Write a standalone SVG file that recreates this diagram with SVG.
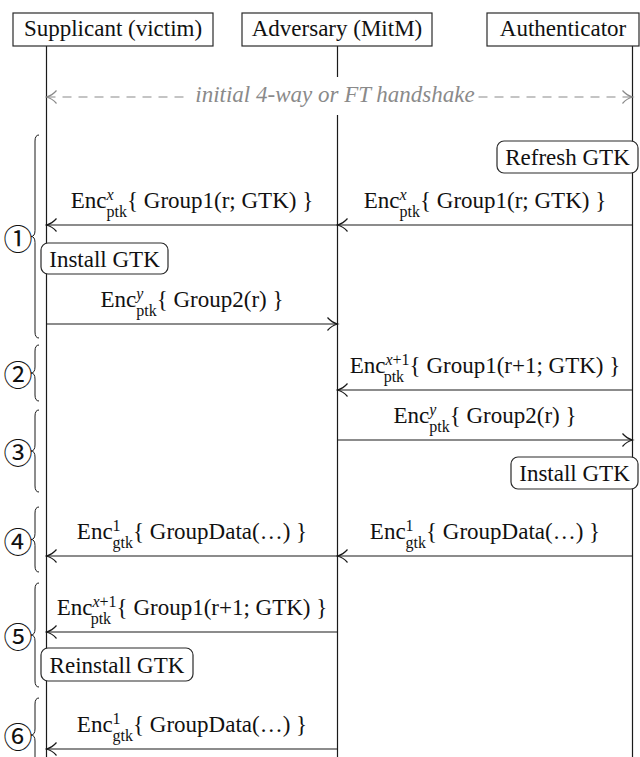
<svg xmlns="http://www.w3.org/2000/svg" width="640" height="757" viewBox="0 0 640 757" font-family="Liberation Serif, DejaVu Serif, serif">
<defs>
<style>
.ll{stroke:#1a1a1a;stroke-width:1.2;fill:none}
.msg{stroke:#1a1a1a;stroke-width:1.2;fill:none;marker-end:url(#ah)}
.box{fill:#fff;stroke:#2a2a2a;stroke-width:1.2}
.brace{fill:none;stroke:#1a1a1a;stroke-width:1}
.t{font-size:23px;fill:#111}
.s{font-size:16px}
.i{font-style:italic}
.hs{font-size:23px;font-style:italic;fill:#8a8a8a}
.dash{stroke:#8a8a8a;stroke-width:1.2;stroke-dasharray:9 7;fill:none;marker-start:url(#ahg);marker-end:url(#ahg)}
.num{font-size:29px;fill:#111}
</style>
<marker id="ah" markerUnits="userSpaceOnUse" markerWidth="14" markerHeight="16" viewBox="-12 -8 14 16" refX="0" refY="0" orient="auto">
<path d="M-10,-6.5 C-7,-3 -3,-0.8 0,0 C-3,0.8 -7,3 -10,6.5" fill="none" stroke="#1a1a1a" stroke-width="1.2"/>
</marker>
<marker id="ahg" markerUnits="userSpaceOnUse" markerWidth="14" markerHeight="16" viewBox="-12 -8 14 16" refX="0" refY="0" orient="auto-start-reverse">
<path d="M-10,-6.5 C-7,-3 -3,-0.8 0,0 C-3,0.8 -7,3 -10,6.5" fill="none" stroke="#8a8a8a" stroke-width="1.2"/>
</marker>
</defs>
<rect width="640" height="757" fill="#fff"/>

<g id="lifelines">
<line class="ll" x1="46.5" y1="46" x2="46.5" y2="757"/>
<line class="ll" x1="337.5" y1="46" x2="337.5" y2="757"/>
<line class="ll" x1="632.5" y1="46" x2="632.5" y2="757"/>
</g>

<g id="supplicant">
<rect class="box" x="13" y="13" width="200" height="33"/>
<text class="t" x="113" y="36" text-anchor="middle">Supplicant (victim)</text>
</g>
<g id="adversary">
<rect class="box" x="242" y="13" width="190" height="33"/>
<text class="t" x="337" y="36" text-anchor="middle">Adversary (MitM)</text>
</g>
<g id="authenticator">
<rect class="box" x="487" y="13" width="152" height="33"/>
<text class="t" x="563" y="36" text-anchor="middle">Authenticator</text>
</g>

<g id="connectors">
<line class="dash" x1="46.5" y1="97" x2="632.5" y2="97"/>
<rect x="188" y="77" width="288" height="38" fill="#fff"/>
<text class="hs" x="335" y="102" text-anchor="middle">initial 4-way or FT handshake</text>

<line class="msg" x1="632.5" y1="225" x2="337.5" y2="225"/>
<line class="msg" x1="337.5" y1="225" x2="46.5" y2="225"/>
<line class="msg" x1="46.5" y1="324" x2="337.5" y2="324"/>
<line class="msg" x1="632.5" y1="390" x2="337.5" y2="390"/>
<line class="msg" x1="337.5" y1="440" x2="632.5" y2="440"/>
<line class="msg" x1="632.5" y1="556" x2="337.5" y2="556"/>
<line class="msg" x1="337.5" y1="556" x2="46.5" y2="556"/>
<line class="msg" x1="337.5" y1="632" x2="46.5" y2="632"/>
<line class="msg" x1="337.5" y1="749" x2="46.5" y2="749"/>

<text class="t" x="485" y="207.5" text-anchor="middle">Enc<tspan class="s i" dy="-8">x</tspan><tspan class="s" dx="-7.1" dy="17.5">ptk</tspan><tspan dy="-9.5">{ Group1(r; GTK) }</tspan></text>
<text class="t" x="192" y="207.5" text-anchor="middle">Enc<tspan class="s i" dy="-8">x</tspan><tspan class="s" dx="-7.1" dy="17.5">ptk</tspan><tspan dy="-9.5">{ Group1(r; GTK) }</tspan></text>
<text class="t" x="192" y="306.5" text-anchor="middle">Enc<tspan class="s i" dy="-8">y</tspan><tspan class="s" dx="-7.1" dy="17.5">ptk</tspan><tspan dy="-9.5">{ Group2(r) }</tspan></text>
<text class="t" x="485" y="372.5" text-anchor="middle">Enc<tspan class="s i" dy="-8">x</tspan><tspan class="s">+1</tspan><tspan class="s" dx="-25.9" dy="17.5">ptk</tspan><tspan dx="5.5" dy="-9.5">{ Group1(r+1; GTK) }</tspan></text>
<text class="t" x="485" y="422.5" text-anchor="middle">Enc<tspan class="s i" dy="-8">y</tspan><tspan class="s" dx="-7.1" dy="17.5">ptk</tspan><tspan dy="-9.5">{ Group2(r) }</tspan></text>
<text class="t" x="485" y="538.5" text-anchor="middle">Enc<tspan class="s" dy="-8">1</tspan><tspan class="s" dx="-8" dy="17.5">gtk</tspan><tspan dy="-9.5">{ GroupData(…) }</tspan></text>
<text class="t" x="192" y="538.5" text-anchor="middle">Enc<tspan class="s" dy="-8">1</tspan><tspan class="s" dx="-8" dy="17.5">gtk</tspan><tspan dy="-9.5">{ GroupData(…) }</tspan></text>
<text class="t" x="192" y="614.5" text-anchor="middle">Enc<tspan class="s i" dy="-8">x</tspan><tspan class="s">+1</tspan><tspan class="s" dx="-25.9" dy="17.5">ptk</tspan><tspan dx="5.5" dy="-9.5">{ Group1(r+1; GTK) }</tspan></text>
<text class="t" x="192" y="731.5" text-anchor="middle">Enc<tspan class="s" dy="-8">1</tspan><tspan class="s" dx="-8" dy="17.5">gtk</tspan><tspan dy="-9.5">{ GroupData(…) }</tspan></text>
</g>

<g id="refresh-gtk">
<rect class="box" x="497" y="141" width="141" height="32" rx="7"/>
<text class="t" x="567.5" y="165" text-anchor="middle">Refresh GTK</text>
</g>
<g id="install-gtk-supplicant">
<rect class="box" x="41" y="243" width="127" height="31" rx="7"/>
<text class="t" x="104.5" y="266.5" text-anchor="middle">Install GTK</text>
</g>
<g id="install-gtk-authenticator">
<rect class="box" x="511" y="457" width="127" height="32" rx="7"/>
<text class="t" x="574.5" y="480.5" text-anchor="middle">Install GTK</text>
</g>
<g id="reinstall-gtk">
<rect class="box" x="41" y="648" width="152" height="33" rx="7"/>
<text class="t" x="117" y="672.5" text-anchor="middle">Reinstall GTK</text>
</g>

<g id="phases" font-family="Noto Sans CJK JP, Noto Sans CJK SC, sans-serif">
<path class="brace" d="M39,135 Q35,135 35,141 L35,230.5 Q35,236.5 31,236.5 Q35,236.5 35,242.5 L35,332 Q35,338 39,338"/>
<text class="num" x="18" y="237" text-anchor="middle" dominant-baseline="central">①</text>
<path class="brace" d="M39,345 Q35,345 35,351 L35,367 Q35,373 31,373 Q35,373 35,379 L35,395 Q35,401 39,401"/>
<text class="num" x="18" y="373" text-anchor="middle" dominant-baseline="central">②</text>
<path class="brace" d="M39,410 Q35,410 35,416 L35,445 Q35,451 31,451 Q35,451 35,457 L35,486 Q35,492 39,492"/>
<text class="num" x="18" y="451" text-anchor="middle" dominant-baseline="central">③</text>
<path class="brace" d="M39,507 Q35,507 35,513 L35,533.5 Q35,539.5 31,539.5 Q35,539.5 35,545.5 L35,566 Q35,572 39,572"/>
<text class="num" x="18" y="540" text-anchor="middle" dominant-baseline="central">④</text>
<path class="brace" d="M39,583 Q35,583 35,589 L35,629 Q35,635 31,635 Q35,635 35,641 L35,681 Q35,687 39,687"/>
<text class="num" x="18" y="635" text-anchor="middle" dominant-baseline="central">⑤</text>
<path class="brace" d="M39,698 Q35,698 35,704 L35,729 Q35,735 31,735 Q35,735 35,741 L35,766 Q35,772 39,772"/>
<text class="num" x="18" y="735" text-anchor="middle" dominant-baseline="central">⑥</text>
</g>
</svg>
